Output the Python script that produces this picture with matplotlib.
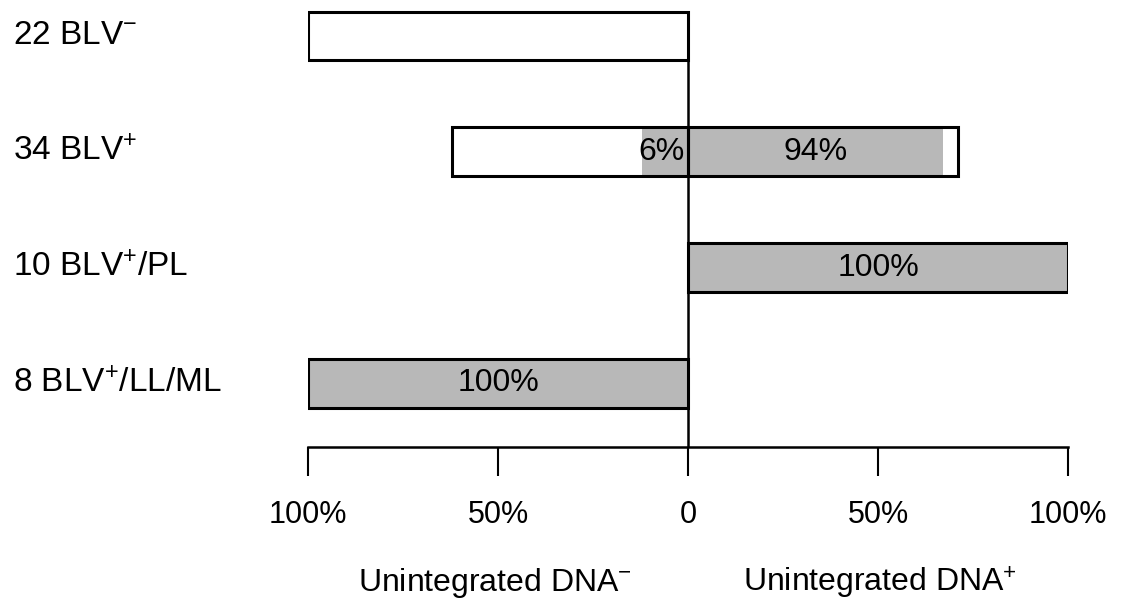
import numpy as np
import matplotlib
matplotlib.use("Agg")
import matplotlib.pyplot as plt
from matplotlib.transforms import blended_transform_factory

plt.rcParams['font.family'] = ['Liberation Sans', 'DejaVu Sans']
plt.rcParams['mathtext.fontset'] = 'custom'
plt.rcParams['mathtext.rm'] = 'Liberation Sans'
plt.rcParams['mathtext.it'] = 'Liberation Sans'

# groups, top to bottom
groups = [r'22 BLV$^{-}$', r'34 BLV$^{+}$', r'10 BLV$^{+}$/PL', r'8 BLV$^{+}$/LL/ML']
# outer extent of each bar (percent), left side = unintegrated DNA-, right = DNA+
left_total = [100, 62, 0, 100]
right_total = [0, 71, 100, 0]
# shaded part of each bar
grey_left = [0, 12, 0, 100]
grey_right = [0, 67, 100, 0]
# labels written inside the bars
txt_left = ['', '6%', '', '100%']
txt_right = ['', '94%', '100%', '']

xticks = [-100, -50, 0, 50, 100]
xticklabels = ['100%', '50%', '0', '50%', '100%']

W, H = 1129, 602
fig = plt.figure(figsize=(W / 100, H / 100), dpi=100)
ax = fig.add_axes([308 / W, (H - 447) / H, 760 / W, 447 / H])

y = np.arange(len(groups))
h = 0.42
grey = '#b8b8b8'

# white background of bars
ax.barh(y, [-v for v in left_total], height=h, color='white', zorder=1)
ax.barh(y, right_total, height=h, color='white', zorder=1)
# shaded parts
ax.barh(y, [-v for v in grey_left], height=h, color=grey, zorder=2)
ax.barh(y, grey_right, height=h, color=grey, zorder=2)
# outlines
for i in range(len(groups)):
    if left_total[i] > 0:
        ax.barh(y[i], -left_total[i], height=h, facecolor='none',
                edgecolor='black', linewidth=2.2, zorder=3)
    if right_total[i] > 0:
        ax.barh(y[i], right_total[i], height=h, facecolor='none',
                edgecolor='black', linewidth=2.2, zorder=3)

# center line
ax.vlines(0, -h / 2, 3.55, color='black', linewidth=1.8, zorder=4)

# labels in bars
for i in range(len(groups)):
    if txt_left[i]:
        if grey_left[i] < 50:
            ax.text(-1, y[i], txt_left[i], ha='right', va='center', fontsize=23, zorder=5)
        else:
            ax.text(-grey_left[i] / 2, y[i], txt_left[i], ha='center', va='center',
                    fontsize=23, zorder=5)
    if txt_right[i]:
        ax.text(grey_right[i] / 2, y[i], txt_right[i], ha='center', va='center',
                fontsize=23, zorder=5)

# group names on the left
tr = blended_transform_factory(fig.transFigure, ax.transData)
for i, g in enumerate(groups):
    ax.text(13 / W, y[i], g, transform=tr, ha='left', va='center', fontsize=24)

ax.set_xlim(-100, 100)
ax.set_ylim(3.55, -0.31)
ax.set_yticks([])
ax.set_xticks(xticks)
ax.set_xticklabels(xticklabels, fontsize=22)
ax.tick_params(axis='x', length=21, width=1.5, pad=17, direction='out')
for s in ['top', 'left', 'right']:
    ax.spines[s].set_visible(False)
ax.spines['bottom'].set_linewidth(1.8)
ax.patch.set_alpha(0)

fig.text(495 / W, 1 - 583 / H, r'Unintegrated DNA$^{-}$', ha='center', va='center', fontsize=23)
fig.text(880 / W, 1 - 583 / H, r'Unintegrated DNA$^{+}$', ha='center', va='center', fontsize=23)

fig.savefig('out.png', dpi=100)
